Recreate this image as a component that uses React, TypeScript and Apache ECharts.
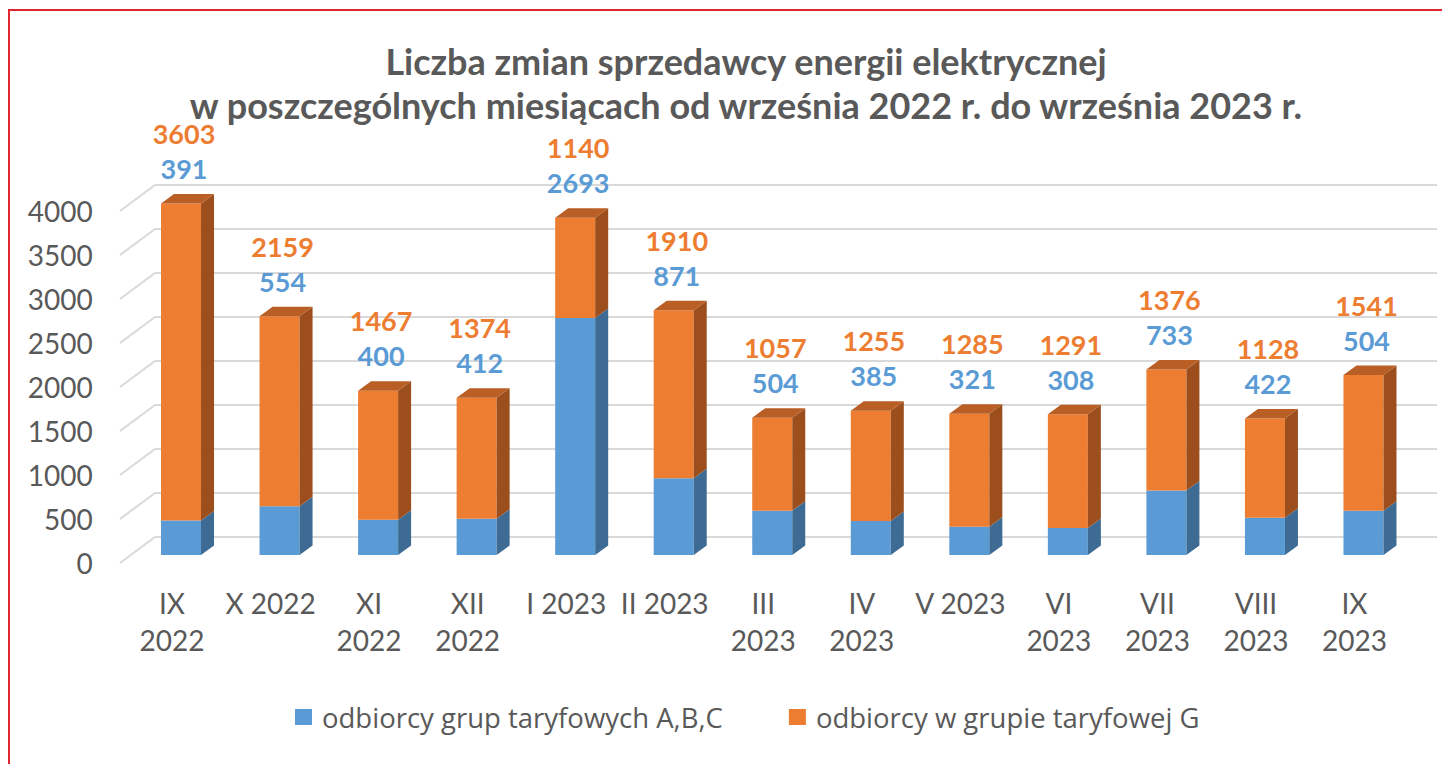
import React, { useEffect, useRef } from "react";
import * as echarts from "echarts";

const categories = [
  "IX\n2022", "X 2022", "XI\n2022", "XII\n2022", "I 2023", "II 2023",
  "III\n2023", "IV\n2023", "V 2023", "VI\n2023", "VII\n2023", "VIII\n2023", "IX\n2023",
];
const seriesNames = ["odbiorcy grup taryfowych A,B,C", "odbiorcy w grupie taryfowej G"];
const abcValues = [391, 554, 400, 412, 2693, 871, 504, 385, 321, 308, 733, 422, 504];
const gValues = [3603, 2159, 1467, 1374, 1140, 1910, 1057, 1255, 1285, 1291, 1376, 1128, 1541];
const yTicks = [0, 500, 1000, 1500, 2000, 2500, 3000, 3500, 4000];
const titleLines = [
  "Liczba zmian sprzedawcy energii elektrycznej",
  "w poszczególnych miesiącach od września 2022 r. do września 2023 r.",
];

const BLUE = "#5B9BD5";
const BLUE_SIDE = "#3D6B94";
const BLUE_TOP = "#4A84B8";
const ORANGE = "#ED7D31";
const ORANGE_SIDE = "#9C4F1C";
const ORANGE_TOP = "#B95E24";
const GRID_COLOR = "#D9D9D9";
const TEXT = "#595959";
const FONT = "Lato, 'Noto Sans', sans-serif";
const LEGEND_FONT = "'Open Sans', 'Noto Sans', sans-serif";
const DX = 13;
const DY = 9.5;
const BAR_RATIO = 40 / 98.5;

function makeBar(front: string, side: string, top: string, isTop: boolean, labelColor: string, labelOffset: number) {
  return (params: any, api: any) => {
    const idx = api.value(0);
    const lo = api.value(1);
    const hi = api.value(2);
    const total = api.value(3);
    const shown = api.value(4);
    const pLo = api.coord([idx, lo]);
    const pHi = api.coord([idx, hi]);
    const pTot = api.coord([idx, total]);
    const w = api.size([1, 0])[0] * BAR_RATIO;
    const x0 = pLo[0] - w / 2;
    const x1 = pLo[0] + w / 2;
    const yb = pLo[1];
    const yt = pHi[1];
    const children: any[] = [
      { type: "rect", shape: { x: x0, y: yt, width: w, height: yb - yt }, style: { fill: front } },
      {
        type: "polygon",
        shape: { points: [[x1, yb], [x1 + DX, yb - DY], [x1 + DX, yt - DY], [x1, yt]] },
        style: { fill: side },
      },
    ];
    if (isTop) {
      children.push({
        type: "polygon",
        shape: { points: [[x0, yt], [x0 + DX, yt - DY], [x1 + DX, yt - DY], [x1, yt]] },
        style: { fill: top },
      });
    }
    children.push({
      type: "text",
      x: pLo[0] + 3,
      y: pTot[1] - labelOffset,
      style: {
        text: String(shown),
        fill: labelColor,
        font: `bold 27px ${FONT}`,
        align: "center",
        verticalAlign: "middle",
      },
    });
    return { type: "group", children };
  };
}

export default function App() {
  const ref = useRef<HTMLDivElement>(null);
  useEffect(() => {
    if (!ref.current) return;
    const chart = echarts.init(ref.current, undefined, { renderer: "svg" });
    const totals = abcValues.map((v, i) => v + gValues[i]);
    const blueData = abcValues.map((v, i) => [i, 0, v, totals[i], v]);
    const orangeData = gValues.map((v, i) => [i, abcValues[i], totals[i], totals[i], v]);
    const tickData = yTicks.map((v) => [0, v]);

    const option: any = {
      animation: false,
      backgroundColor: "#ffffff",
      title: {
        text: titleLines.join("\n"),
        left: 741,
        textAlign: "center",
        top: 34,
        textStyle: {
          fontFamily: FONT,
          fontWeight: "bold",
          fontSize: 36,
          lineHeight: 44,
          color: TEXT,
        },
      },
      legend: {
        data: seriesNames,
        left: 290,
        top: 698,
        icon: "rect",
        itemWidth: 17,
        itemHeight: 16,
        itemGap: 66,
        textStyle: { fontFamily: LEGEND_FONT, fontSize: 27.5, color: TEXT, padding: [0, 0, 0, 5] },
      },
      graphic: [
        {
          type: "rect",
          shape: { x: 9, y: 10, width: 1600, height: 900 },
          style: { fill: "none", stroke: "#E0262E", lineWidth: 2 },
          silent: true,
        },
      ],
      grid: [
        { left: 155, top: 185, width: 1282, height: 352 },
        { left: 131.75, top: 203, width: 1281, height: 352 },
        { left: 122.75, top: 211, width: 1281, height: 352 },
      ],
      xAxis: [
        { type: "category", gridIndex: 0, data: categories, show: false },
        { type: "category", gridIndex: 1, data: categories, show: false },
        {
          type: "category",
          gridIndex: 2,
          data: categories,
          axisLine: { show: false },
          axisTick: { show: false },
          axisLabel: {
            interval: 0,
            margin: 21,
            fontFamily: FONT,
            fontSize: 28,
            lineHeight: 37,
            color: TEXT,
            verticalAlign: "top",
          },
        },
      ],
      yAxis: [
        {
          type: "value",
          gridIndex: 0,
          min: 0,
          max: 4000,
          interval: 500,
          axisLabel: { show: false },
          axisLine: { show: false },
          axisTick: { show: false },
          splitLine: { show: true, lineStyle: { color: GRID_COLOR, width: 2 } },
        },
        {
          type: "value",
          gridIndex: 1,
          min: 0,
          max: 4000,
          interval: 500,
          show: false,
          splitLine: { show: false },
        },
        {
          type: "value",
          gridIndex: 2,
          min: 0,
          max: 4000,
          interval: 500,
          axisLine: { show: false },
          axisTick: { show: false },
          splitLine: { show: false },
          axisLabel: {
            margin: 30,
            fontFamily: FONT,
            fontSize: 28,
            color: TEXT,
            formatter: (v: number) => String(v),
          },
        },
      ],
      series: [
        {
          type: "custom",
          name: "diagonals",
          xAxisIndex: 0,
          yAxisIndex: 0,
          silent: true,
          data: tickData,
          encode: { x: 0, y: 1 },
          renderItem: (params: any, api: any) => {
            const y = api.coord([0, api.value(1)])[1];
            const x = params.coordSys.x;
            return {
              type: "line",
              shape: { x1: x - 35, y1: y + 26, x2: x, y2: y },
              style: { stroke: GRID_COLOR, lineWidth: 2 },
            };
          },
        },
        {
          type: "custom",
          name: seriesNames[0],
          xAxisIndex: 1,
          yAxisIndex: 1,
          itemStyle: { color: BLUE },
          data: blueData,
          encode: { x: 0, y: [1, 2] },
          renderItem: makeBar(BLUE, BLUE_SIDE, BLUE_TOP, false, BLUE, 35),
        },
        {
          type: "custom",
          name: seriesNames[1],
          xAxisIndex: 1,
          yAxisIndex: 1,
          itemStyle: { color: ORANGE },
          data: orangeData,
          encode: { x: 0, y: [1, 2] },
          renderItem: makeBar(ORANGE, ORANGE_SIDE, ORANGE_TOP, true, ORANGE, 70),
        },
      ],
    };
    chart.setOption(option);
    return () => chart.dispose();
  }, []);

  return (
    <div
      ref={ref}
      style={{ position: "absolute", left: 0, top: 0, width: 1442, height: 764, background: "#fff" }}
    />
  );
}
